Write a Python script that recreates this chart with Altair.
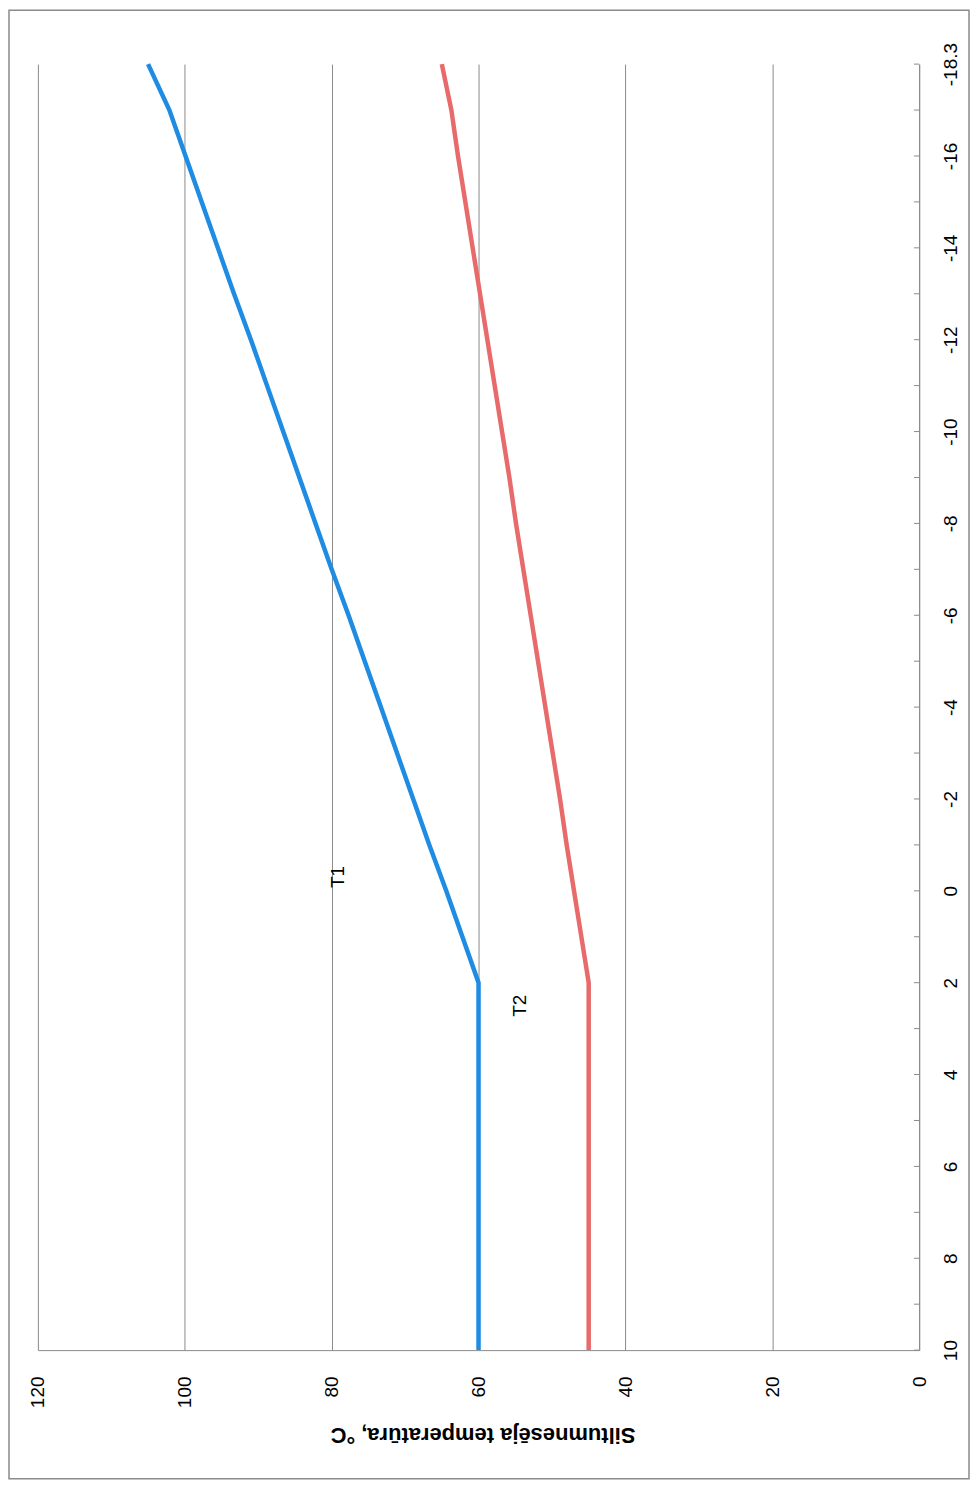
import altair as alt
import pandas as pd

# Outdoor air temperature categories (Excel-style category axis, bottom -> top)
outdoor_labels = ["10", "9", "8", "7", "6", "5", "4", "3", "2", "1", "0", "-1", "-2", "-3",
                  "-4", "-5", "-6", "-7", "-8", "-9", "-10", "-11", "-12", "-13", "-14",
                  "-15", "-16", "-17", "-18.3"]
# Supply (T1) and return (T2) heat-carrier temperatures, °C
t1_values = [60, 60, 60, 60, 60, 60, 60, 60, 60, 62.2, 64.4, 66.7, 68.9, 71.1, 73.3, 75.5,
             77.7, 80.0, 82.2, 84.4, 86.6, 88.8, 91.0, 93.3, 95.5, 97.7, 99.9, 102.1, 105.0]
t2_values = [45, 45, 45, 45, 45, 45, 45, 45, 45, 46.0, 47.0, 48.0, 48.9, 49.9, 50.9, 51.9,
             52.9, 53.9, 54.9, 55.8, 56.8, 57.8, 58.8, 59.8, 60.8, 61.8, 62.8, 63.7, 65.0]
series_names = ["T1", "T2"]
series_colors = ["#1f8ce3", "#e86a6a"]
value_ticks = [0, 20, 40, 60, 80, 100, 120]

# series label annotations (value, category index)
label_names = ["T1", "T2"]
label_values = [79.1, 54.3]
label_index = [10.3, 7.5]

rows = []
for i, lab in enumerate(outdoor_labels):
    rows.append({"idx": i, "outdoor": lab, "series": "T1", "temp": t1_values[i]})
    rows.append({"idx": i, "outdoor": lab, "series": "T2", "temp": t2_values[i]})
df = pd.DataFrame(rows)
ticks_df = pd.DataFrame({"idx": list(range(len(outdoor_labels)))})
labels_df = pd.DataFrame({"name": label_names, "temp": label_values, "idx": label_index})

W, H = 884, 1290
FONT = "Liberation Sans"
GREY = "#8a8a8a"

label_array = "[" + ",".join("'" + s + "'" for s in outdoor_labels) + "]"

x_scale = alt.Scale(domain=[0, 120], reverse=True, nice=False, zero=False)
y_scale = alt.Scale(domain=[0, len(outdoor_labels) - 1], nice=False, zero=False)

x_axis = alt.Axis(
    values=value_ticks, grid=True, gridColor=GREY, gridWidth=1,
    domainColor=GREY, domainWidth=1, ticks=False, labelAngle=270,
    labelAlign="right", labelBaseline="middle", labelPadding=26,
    labelFontSize=19, labelFont=FONT, labelColor="#000000",
    title="Siltumnesēja temperatūra, °C", titleAngle=180, titleFont=FONT,
    titleFontSize=22, titleFontWeight="bold", titleColor="#000000",
    titleBaseline="middle", titleAlign="center", titleX=W / 2 + 4, titleY=85,
)
y_axis = alt.Axis(
    orient="right", values=list(range(0, len(outdoor_labels), 2)), grid=False,
    domainColor=GREY, domainWidth=1, ticks=False, labelAngle=270,
    labelAlign="center", labelBaseline="top", labelPadding=22,
    labelFontSize=19, labelFont=FONT, labelColor="#000000",
    labelExpr=label_array + "[datum.value]", title=None,
)

lines = alt.Chart(df).mark_line(strokeWidth=4.5).encode(
    x=alt.X("temp:Q", scale=x_scale, axis=x_axis),
    y=alt.Y("idx:Q", scale=y_scale, axis=y_axis),
    color=alt.Color("series:N", scale=alt.Scale(domain=series_names, range=series_colors), legend=None),
    detail="series:N",
    order=alt.Order("idx:Q"),
)

tick_marks = alt.Chart(ticks_df).mark_rule(color=GREY, strokeWidth=1).encode(
    x=alt.datum(0.7, scale=x_scale),
    x2=alt.datum(0),
    y=alt.Y("idx:Q", scale=y_scale),
)

texts = alt.Chart(labels_df).mark_text(
    angle=270, fontSize=19, font=FONT, color="#000000", align="center", baseline="middle"
).encode(
    x=alt.X("temp:Q", scale=x_scale),
    y=alt.Y("idx:Q", scale=y_scale),
    text="name:N",
)

frame = alt.Chart(pd.DataFrame({"a": [0]})).mark_rect(
    fill="transparent", stroke=GREY, strokeWidth=1.5
).encode(
    x=alt.value(-29), x2=alt.value(934), y=alt.value(-54), y2=alt.value(1419)
)

chart = alt.layer(frame, tick_marks, lines, texts).properties(
    width=W, height=H,
    autosize=alt.AutoSizeParams(type="none"),
    padding={"left": 30, "top": 54, "right": 52, "bottom": 130},
    background="#ffffff",
).configure_view(stroke="transparent")

chart.save("out.html", embed_options={"renderer": "svg", "actions": False})
